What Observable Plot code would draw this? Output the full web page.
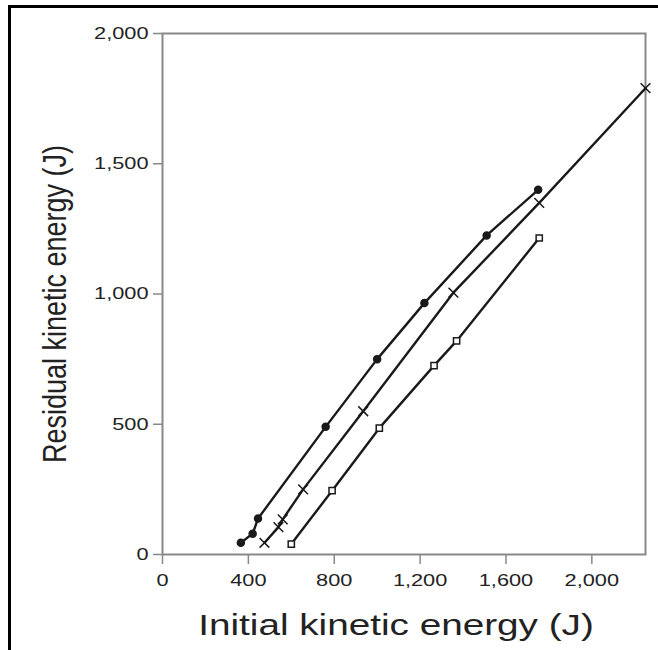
<!DOCTYPE html>
<html>
<head>
<meta charset="utf-8">
<script src="https://cdn.jsdelivr.net/npm/d3@7"></script>
<script src="https://cdn.jsdelivr.net/npm/@observablehq/plot@0.6"></script>
<style>
  html, body { margin: 0; padding: 0; background: #fff; }
  #wrap { position: relative; width: 658px; height: 650px; overflow: hidden; }
  #border { position: absolute; left: 8px; top: 5px; width: 700px; height: 700px;
            border-top: 3px solid #000; border-left: 3px solid #000; }
  #chart { position: absolute; left: 0; top: 0; }
</style>
</head>
<body>
<div id="wrap"><div id="border"></div><div id="chart"></div></div>
<script>
// Series: filled circles
const initialKE_circles  = [365, 420, 445, 760, 1000, 1220, 1510, 1750];
const residualKE_circles = [45, 80, 138, 490, 750, 965, 1225, 1400];
// Series: crosses
const initialKE_crosses  = [475, 540, 560, 655, 935, 1355, 1755, 2250];
const residualKE_crosses = [45, 105, 135, 250, 550, 1005, 1350, 1790];
// Series: open squares
const initialKE_squares  = [600, 790, 1010, 1265, 1370, 1755];
const residualKE_squares = [40, 245, 485, 725, 820, 1215];

const xTicks = [0, 400, 800, 1200, 1600, 2000];
const yTicks = [0, 500, 1000, 1500, 2000];
const xLabel = "Initial kinetic energy (J)";
const yLabel = "Residual kinetic energy (J)";

const toRows = (xs, ys) => xs.map((x, i) => ({x, y: ys[i]}));
const circles = toRows(initialKE_circles, residualKE_circles);
const crosses = toRows(initialKE_crosses, residualKE_crosses);
const squares = toRows(initialKE_squares, residualKE_squares);

const ink = "#1a1a1a";
const fmt = d3.format(",");

const chart = Plot.plot({
  width: 658,
  height: 650,
  marginLeft: 162,
  marginRight: 13,
  marginTop: 33,
  marginBottom: 96,
  style: {fontFamily: "'Liberation Sans', Arial, sans-serif", fontSize: "17px", color: "#222", background: "transparent"},
  x: {domain: [0, 2250]},
  y: {domain: [0, 2000]},
  marks: [
    Plot.axisX({ticks: xTicks, tickFormat: fmt, tickSize: 10, tickPadding: 9, label: null, stroke: "#888", strokeWidth: 1.5, fill: "#222"}),
    Plot.axisY({ticks: yTicks, tickFormat: fmt, tickSize: 9, tickPadding: 5, label: null, stroke: "#888", strokeWidth: 1.5, fill: "#222"}),
    Plot.frame({stroke: "#888", strokeWidth: 2}),
    Plot.line(circles, {x: "x", y: "y", stroke: ink, strokeWidth: 2.4}),
    Plot.line(crosses, {x: "x", y: "y", stroke: ink, strokeWidth: 2.4}),
    Plot.line(squares, {x: "x", y: "y", stroke: ink, strokeWidth: 2.4}),
    Plot.dot(circles, {x: "x", y: "y", r: 3.5, fill: ink, stroke: ink, symbol: "circle"}),
    Plot.dot(crosses, {x: "x", y: "y", r: 4.5, stroke: ink, strokeWidth: 1.5, symbol: "times"}),
    Plot.dot(squares, {x: "x", y: "y", r: 3.5, fill: "white", stroke: ink, strokeWidth: 1.5, symbol: "square"}),
    Plot.text([xLabel], {frameAnchor: "bottom", textAnchor: "middle", lineAnchor: "middle", dx: -8, dy: 71, fontSize: 30, fill: "#222", text: d => d}),
    Plot.text([yLabel], {frameAnchor: "left", textAnchor: "middle", lineAnchor: "middle", dx: -107, dy: 10, rotate: -90, fontSize: 27, fill: "#222", text: d => d})
  ]
});

// The reference's lettering is horizontally stretched: widen each text in place.
function stretch(t, sx, sy) {
  const xa = t.getAttribute("x");
  const ya = t.getAttribute("y");
  let tx = 0, ty = 0;
  if (xa != null && !/em$/.test(xa) && !isNaN(+xa)) { tx = +xa; t.removeAttribute("x"); }
  if (ya != null && !/em$/.test(ya) && !isNaN(+ya)) { ty = +ya; t.removeAttribute("y"); }
  const tr = t.getAttribute("transform") || "";
  t.setAttribute("transform", `${tr} translate(${tx},${ty}) scale(${sx},${sy})`);
}
chart.querySelectorAll("text").forEach(t => {
  const rotated = /rotate/.test(t.getAttribute("transform") || "");
  if (rotated) stretch(t, 1, 1.25);
  else if (t.textContent === xLabel) stretch(t, 1.29, 1);
  else stretch(t, 1.28, 1);
});

document.getElementById("chart").append(chart);
</script>
</body>
</html>
